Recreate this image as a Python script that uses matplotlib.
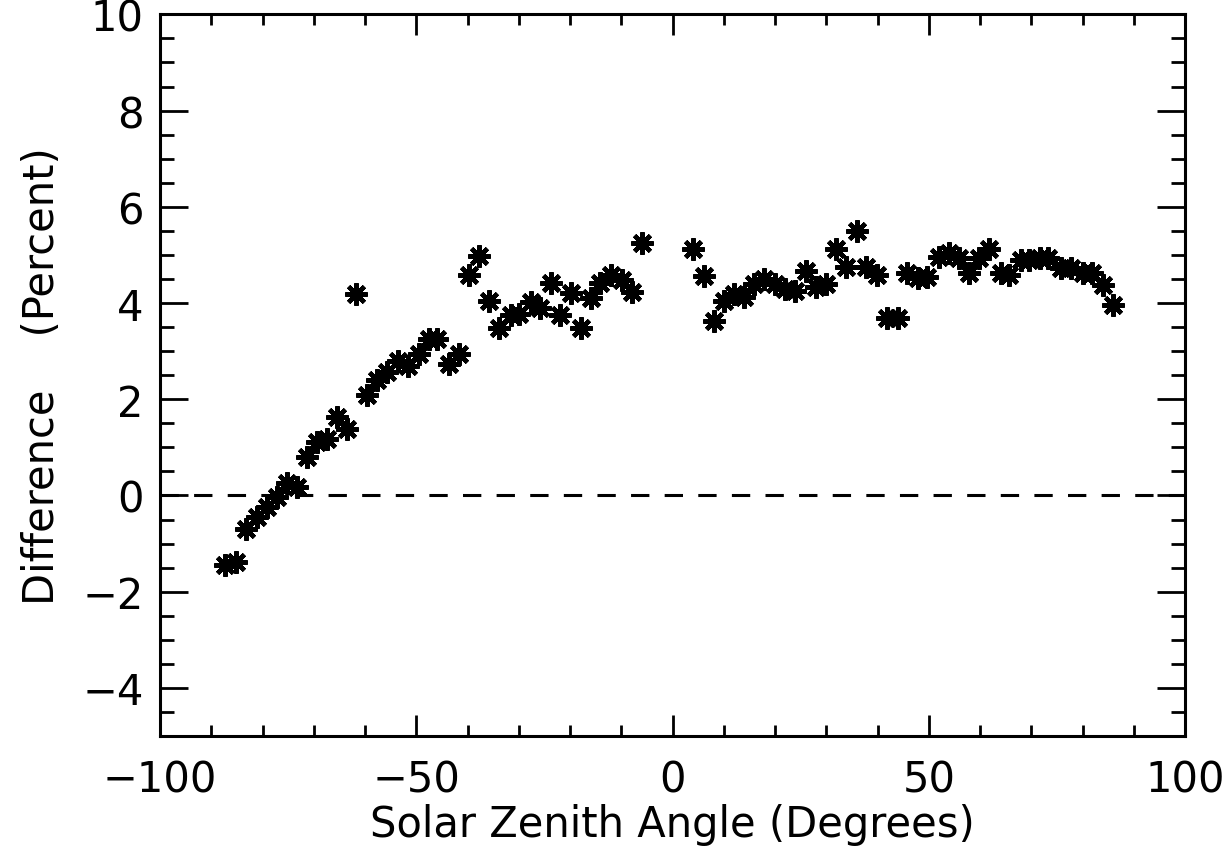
import matplotlib
matplotlib.use("Agg")
import matplotlib.pyplot as plt
from matplotlib.ticker import MultipleLocator

# Solar zenith angle (degrees) and difference (percent)
sza = [-87.3, -85.3, -83.3, -81.2, -79.2, -77.2, -75.3, -73.3, -71.3, -69.4,
       -67.4, -65.5, -63.5, -61.7, -59.6, -57.7, -55.7, -53.6, -51.7, -49.5,
       -47.6, -46.0, -43.7, -41.7, -39.8, -37.8, -35.9, -33.8, -31.6, -30.0,
       -27.7, -25.8, -23.8, -21.9, -19.9, -17.8, -16.0, -14.1, -12.0, -9.8,
       -7.9, -5.9,
       4.0, 6.1, 8.1, 10.0, 12.0, 13.9, 15.9, 17.8, 19.9, 21.9,
       23.8, 26.0, 27.9, 29.9, 31.8, 33.8, 35.9, 37.8, 39.8, 41.9,
       43.9, 45.8, 47.8, 49.7, 52.0, 54.0, 55.9, 57.9, 59.8, 61.8,
       64.1, 65.7, 68.0, 69.6, 71.6, 73.2, 75.8, 77.7, 80.0, 81.8,
       83.9, 86.0]
diff = [-1.45, -1.38, -0.69, -0.44, -0.24, -0.03, 0.25, 0.17, 0.80, 1.12,
        1.18, 1.64, 1.39, 4.18, 2.09, 2.40, 2.57, 2.79, 2.69, 2.95,
        3.26, 3.26, 2.74, 2.95, 4.59, 4.98, 4.04, 3.49, 3.75, 3.77,
        4.03, 3.89, 4.41, 3.75, 4.20, 3.49, 4.10, 4.41, 4.58, 4.48,
        4.22, 5.24,
        5.13, 4.57, 3.62, 4.04, 4.18, 4.13, 4.39, 4.49, 4.39, 4.30,
        4.25, 4.66, 4.34, 4.39, 5.13, 4.75, 5.49, 4.75, 4.58, 3.68,
        3.68, 4.62, 4.51, 4.55, 4.96, 5.03, 4.93, 4.62, 4.93, 5.13,
        4.62, 4.58, 4.89, 4.89, 4.93, 4.93, 4.72, 4.72, 4.62, 4.62,
        4.37, 3.96]

xticks = [-100, -50, 0, 50, 100]
yticks = [-4, -2, 0, 2, 4, 6, 8, 10]

plt.rcParams['font.family'] = ['DejaVu Sans']

fig = plt.figure(figsize=(12.23, 8.54), dpi=100)
ax = fig.add_axes([0.131, 0.137, 0.838, 0.845])

ax.plot(sza, diff, linestyle='none', marker=(8, 2, 0), markersize=16,
        markeredgewidth=3.2, color='black')
ax.axhline(0, color='black', lw=2.2, dashes=(6, 5))

ax.set_xlim(-100, 100)
ax.set_ylim(-5, 10)
ax.set_xticks(xticks)
ax.set_yticks(yticks)
ax.set_xticklabels(['\u2212100', '\u221250', '0', '50', '100'])
ax.set_yticklabels(['\u22124', '\u22122', '0', '2', '4', '6', '8', '10'])
ax.xaxis.set_minor_locator(MultipleLocator(10))
ax.yaxis.set_minor_locator(MultipleLocator(0.5))
ax.tick_params(which='both', direction='in', top=True, right=True,
               labelsize=30, width=2)
ax.tick_params(axis='y', which='major', length=20, pad=12)
ax.tick_params(axis='y', which='minor', length=10)
ax.tick_params(axis='x', which='major', length=15, pad=16)
ax.tick_params(axis='x', which='minor', length=8)
for s in ax.spines.values():
    s.set_linewidth(2.2)

ax.set_xlabel('Solar Zenith Angle (Degrees)', fontsize=30, labelpad=2)
ax.set_ylabel('Difference    (Percent)', fontsize=30, labelpad=14)

fig.savefig('out.png', dpi=100)
